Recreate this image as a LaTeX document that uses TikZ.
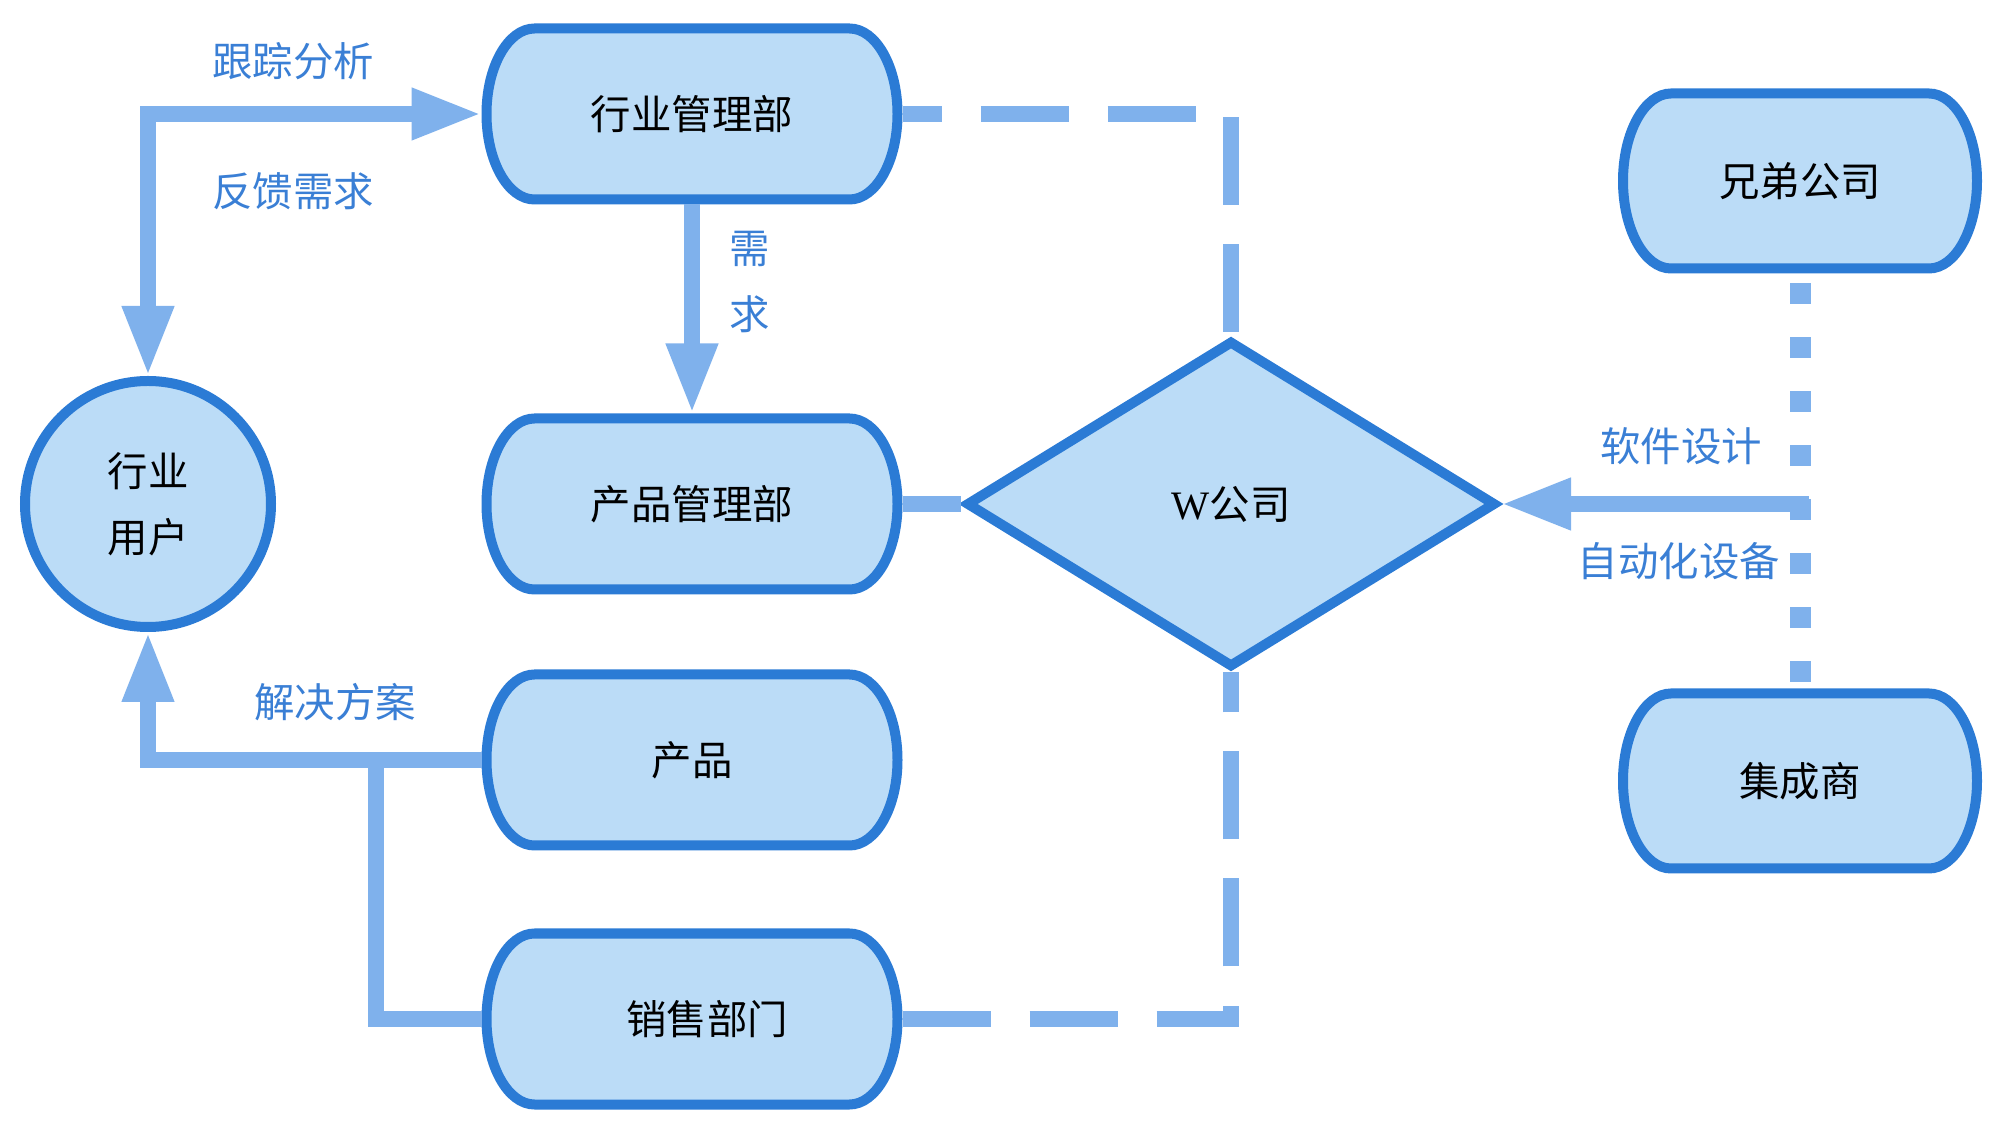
\documentclass[tikz,border=0pt]{standalone}
\usepackage{fontspec}
\setmainfont{Liberation Serif}
\newfontfamily\cjk{Noto Sans CJK SC}
\newfontfamily\wfont{Liberation Serif}
\usetikzlibrary{arrows.meta,shapes.geometric}
\definecolor{boxblue}{HTML}{BBDCF7}
\definecolor{edgeblue}{HTML}{2B7BD5}
\definecolor{lineblue}{HTML}{7FB1EC}
\definecolor{textblue}{HTML}{3A7FD5}

\begin{document}
\begin{tikzpicture}[
        >={Triangle[length=7mm, width=4.8mm]},
        capsule/.style 2 args={rectangle, minimum width=#1, minimum height=#2, inner sep=0pt, outer sep=0pt, font=\cjk\fontsize{11.5}{14}\selectfont,
          path picture={\draw[draw=edgeblue, fill=boxblue, line width=1mm]
            ([shift={(0.53cm,-0.05cm)}]path picture bounding box.north west) -- ([shift={(-0.53cm,-0.05cm)}]path picture bounding box.north east)
            arc[start angle=90, end angle=-90, x radius=0.48cm, y radius={0.5*#2-0.05cm}]
            -- ([shift={(0.53cm,0.05cm)}]path picture bounding box.south west)
            arc[start angle=270, end angle=90, x radius=0.48cm, y radius={0.5*#2-0.05cm}] -- cycle;}},
        dept/.style={capsule={4.21cm}{1.81cm}},
        partner/.style={capsule={3.64cm}{1.85cm}},
        user/.style={circle, draw=edgeblue, fill=boxblue, line width=1mm, minimum size=2.46cm, inner sep=0pt, align=center, font=\cjk\fontsize{11.5}{18.8}\selectfont},
        firm/.style={diamond, draw=edgeblue, fill=boxblue, line width=1mm, minimum width=5.3cm, minimum height=3.27cm, inner sep=0pt, font=\cjk\fontsize{11.5}{14}\selectfont},
        lab/.style={text=textblue, inner sep=0pt, font=\cjk\fontsize{11.5}{14}\selectfont},
        line/.style={draw=lineblue, line width=1.6mm},
        dashline/.style={line, dash pattern=on 8.8mm off 3.9mm},
        dotline/.style={draw=lineblue, line width=2.1mm, dash pattern=on 2.1mm off 3.3mm, dash phase=4.4mm}]
      \useasboundingbox (0,0) rectangle (20,11.37);
      \node[dept] (hy) at (6.92,10.23) {行业管理部};
      \node[dept] (cp) at (6.92,6.33) {产品管理部};
      \node[dept] (pr) at (6.92,3.77) {产品};
      \node[dept] (xs) at (6.92,1.18) {\hspace{0.3cm}销售部门};
      \node[user] (yh) at (1.48,6.33) {行业\\用户};
      \node[firm] (wc) at (12.31,6.33) {{\wfont W}公司};
      \node[partner] (xd) at (18.00,9.56) {兄弟公司};
      \node[partner] (jc) at (18.00,3.56) {集成商};
      \coordinate (bj) at (3.76,3.77);
      \coordinate (jn) at (18.09,6.33);
      \node[lab] (gz) at (2.93,10.76) {跟踪分析};
      \node[lab] (fk) at (2.93,9.46) {反馈需求};
      \node[lab, align=center, font=\cjk\fontsize{11.5}{18.7}\selectfont] (xq) at (7.50,8.55) {需\\求};
      \node[lab] (jj) at (3.35,4.35) {解决方案};
      \node[lab] (rj) at (16.81,6.91) {软件设计};
      \node[lab] (zd) at (16.79,5.76) {自动化设备};
      \draw[line, <->] (yh.north) |- (hy.west);
      \draw[line, ->] (hy.south) -- (cp.north);
      \draw[line] (cp.east) -- (wc.west);
      \draw[dashline, dash phase=4.9mm] (hy.east) -| (wc.north);
      \draw[dashline] (xs.east) -| (wc.south);
      \draw[line, ->] (pr.west) -| (yh.south);
      \draw[line] (xs.west) -| (bj);
      \draw[dotline] (xd.south) -- (jc.north);
      \draw[line, ->] (jn) -- (wc.east);
      \end{tikzpicture}
\end{document}
